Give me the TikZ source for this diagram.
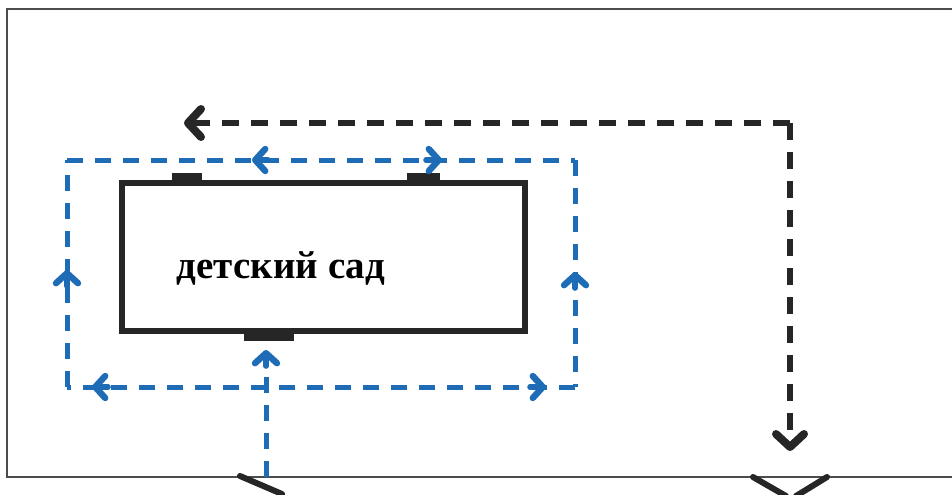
\documentclass[tikz,border=0pt]{standalone}
\usepackage{fontspec}
\setmainfont{Liberation Serif}
\usetikzlibrary{arrows.meta}
\definecolor{pathblue}{RGB}{30,108,182}
\definecolor{pathblack}{RGB}{38,38,38}
\tikzset{
    frame/.style={draw=black!70,line width=1pt},
    wall/.style={draw=pathblack,line width=3pt},
    bluepath/.style={draw=pathblue,line width=2.5pt,dash pattern=on 8pt off 6pt},
    blackpath/.style={draw=pathblack,line width=3.4pt,dash pattern=on 8.5pt off 6pt},
    bluetip/.style={draw=pathblue,line width=2.8pt,line cap=round,line join=round,
        -{Straight Barb[length=5pt,width=11pt,line width=3.2pt,round]}},
    blacktip/.style={-{Straight Barb[length=6.5pt,width=14pt,line width=4pt,round]}},
    gate/.style={draw=pathblack,line width=3pt,line cap=round}
}
\newcommand{\Door}[2]{%
    \fill[pathblack] (#1) rectangle (#2);
}
\newcommand{\Turn}[2]{%
    \draw[bluetip] (#1) -- (#2);
}
\begin{document}
\begin{tikzpicture}[x=0.5pt,y=-0.5pt]
        \useasboundingbox (0,0) rectangle (952,494);
        \draw[frame] (952,9) -- (7,9) -- (7,477) -- (952,477);
        % building
        \draw[wall] (122,183) rectangle (525,331);
        \Door{172,173}{202,183};
        \Door{407,173}{440,183};
        \Door{244,331}{294,341};
        \node[font=\bfseries\fontsize{19.5}{22}\selectfont] (sad) at (281,268) {детский сад};
        % blue loop
        \coordinate (tl) at (67,160);
        \coordinate (tr) at (575,160);
        \coordinate (br) at (575,387);
        \coordinate (bl) at (67,387);
        \draw[bluepath] (tl) -- (tr);
        \draw[bluepath] (tr) -- (br);
        \draw[bluepath] (br) -- (bl);
        \draw[bluepath] (bl) -- (tl);
        \Turn{268,160}{252,160};
        \Turn{426,160}{442,160};
        \Turn{67,286}{67,270};
        \Turn{575,288}{575,272};
        \Turn{108,387}{92,387};
        \Turn{530,387}{546,387};
        \coordinate (entry) at (266,477);
        \draw[bluepath] (entry) -- (266,364);
        \Turn{266,366}{266,350};
        % black route
        \coordinate (turn) at (790,123);
        \draw[blackpath,blacktip] (turn) -- (184,123);
        \draw[blackpath,blacktip] (turn) -- (790,451);
        % gates
        \draw[gate] (240,476) -- (282,494);
        \draw[gate] (753,477) -- (786,496);
        \draw[gate] (827,477) -- (796,496);
    \end{tikzpicture}
\end{document}
